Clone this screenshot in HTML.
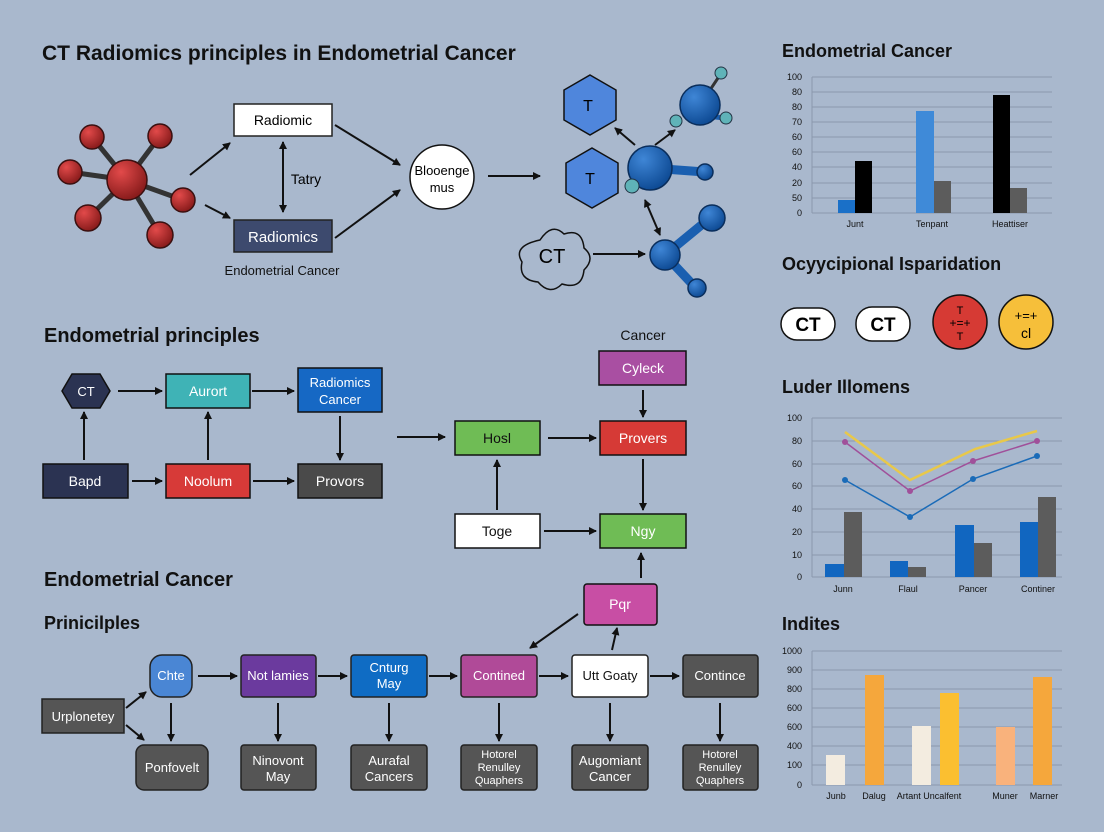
<!DOCTYPE html>
<html><head><meta charset="utf-8"><style>
html,body{margin:0;padding:0;background:#a9b8cd;}
svg{display:block;font-family:"Liberation Sans",sans-serif;}
</style></head><body>
<svg width="1104" height="832" viewBox="0 0 1104 832" xmlns="http://www.w3.org/2000/svg">
<defs>
<marker id="a" markerWidth="8" markerHeight="8" refX="7" refY="4" orient="auto" markerUnits="userSpaceOnUse"><path d="M0,0 L8,4 L0,8 z" fill="#111"/></marker>
<marker id="b" markerWidth="8" markerHeight="8" refX="1" refY="4" orient="auto" markerUnits="userSpaceOnUse"><path d="M8,0 L0,4 L8,8 z" fill="#111"/></marker>
<radialGradient id="rb" cx="0.35" cy="0.3" r="0.7"><stop offset="0" stop-color="#e24a4a"/><stop offset="1" stop-color="#8a1c1c"/></radialGradient>
<radialGradient id="bb" cx="0.35" cy="0.3" r="0.7"><stop offset="0" stop-color="#3f86d6"/><stop offset="1" stop-color="#0f4c96"/></radialGradient>
</defs>
<rect width="1104" height="832" fill="#a9b8cd"/>
<g fill="#111" font-weight="bold">
<text x="42" y="60" font-size="21">CT Radiomics principles in Endometrial Cancer</text>
<text x="44" y="342" font-size="20">Endometrial principles</text>
<text x="44" y="586" font-size="20">Endometrial Cancer</text>
<text x="44" y="629" font-size="18">Prinicilples</text>
<text x="782" y="57" font-size="18">Endometrial Cancer</text>
<text x="782" y="270" font-size="18">Ocyycipional Isparidation</text>
<text x="782" y="393" font-size="18">Luder Illomens</text>
<text x="782" y="630" font-size="18">Indites</text>
</g>
<!-- red molecule -->
<g stroke="#333" stroke-width="5">
<line x1="127" y1="180" x2="92" y2="137"/><line x1="127" y1="180" x2="160" y2="136"/><line x1="127" y1="180" x2="70" y2="172"/><line x1="127" y1="180" x2="88" y2="218"/><line x1="127" y1="180" x2="183" y2="200"/><line x1="127" y1="180" x2="160" y2="235"/>
</g>
<g fill="url(#rb)" stroke="#3a1010" stroke-width="1.5">
<circle cx="92" cy="137" r="12"/><circle cx="160" cy="136" r="12"/><circle cx="70" cy="172" r="12"/><circle cx="88" cy="218" r="13"/><circle cx="183" cy="200" r="12"/><circle cx="160" cy="235" r="13"/><circle cx="127" cy="180" r="20"/>
</g>
<g stroke="#111" stroke-width="2" fill="none" marker-end="url(#a)">
<line x1="190" y1="175" x2="230" y2="143"/><line x1="205" y1="205" x2="230" y2="218"/>
<line x1="335" y1="125" x2="400" y2="165"/><line x1="335" y1="238" x2="400" y2="190"/>
<line x1="488" y1="176" x2="540" y2="176"/><line x1="593" y1="254" x2="645" y2="254"/>
<line x1="635" y1="145" x2="615" y2="128"/><line x1="655" y1="145" x2="675" y2="130"/>
<line x1="645" y1="200" x2="660" y2="235" marker-start="url(#b)"/>
<line x1="283" y1="142" x2="283" y2="212" marker-start="url(#b)"/>
</g>
<rect x="234" y="104" width="98" height="32" fill="#fff" stroke="#222" stroke-width="1.5"/>
<text x="283" y="125" font-size="14" text-anchor="middle">Radiomic</text>
<text x="306" y="184" font-size="14" text-anchor="middle">Tatry</text>
<rect x="234" y="220" width="98" height="32" fill="#3d4a6e" stroke="#222" stroke-width="1.5"/>
<text x="283" y="242" font-size="15" text-anchor="middle" fill="#fff">Radiomics</text>
<text x="282" y="275" font-size="13" text-anchor="middle" fill="#111">Endometrial Cancer</text>
<circle cx="442" cy="177" r="32" fill="#fff" stroke="#111" stroke-width="1.5"/>
<text x="442" y="175" font-size="13" text-anchor="middle">Blooenge</text><text x="442" y="192" font-size="13" text-anchor="middle">mus</text>
<path d="M540,240 q12,-18 24,-6 q18,-6 20,14 q12,10 0,22 q-2,20 -22,14 q-12,12 -24,-2 q-20,-2 -16,-20 q-10,-16 18,-22z" fill="none" stroke="#111" stroke-width="1.5"/>
<text x="552" y="263" font-size="20" text-anchor="middle">CT</text>
<g fill="#4f86dc" stroke="#111" stroke-width="1.5">
<polygon points="590,75 616,90 616,120 590,135 564,120 564,90"/>
<polygon points="592,148 618,163 618,193 592,208 566,193 566,163"/>
</g>
<text x="588" y="111" font-size="16" text-anchor="middle">T</text><text x="590" y="184" font-size="16" text-anchor="middle">T</text>
<g stroke="#1a5fb0" stroke-width="9" stroke-linecap="round">
<line x1="650" y1="168" x2="705" y2="172"/><line x1="665" y1="255" x2="710" y2="218"/><line x1="665" y1="255" x2="695" y2="287"/>
</g>
<line x1="700" y1="105" x2="720" y2="75" stroke="#333" stroke-width="3"/><line x1="700" y1="115" x2="724" y2="118" stroke="#1a5fb0" stroke-width="5"/>
<g fill="url(#bb)" stroke="#0a2e5c" stroke-width="1.5">
<circle cx="700" cy="105" r="20"/><circle cx="650" cy="168" r="22"/><circle cx="705" cy="172" r="8"/><circle cx="712" cy="218" r="13"/><circle cx="665" cy="255" r="15"/><circle cx="697" cy="288" r="9"/>
</g>
<g fill="#5fb3b8" stroke="#234" stroke-width="1"><circle cx="721" cy="73" r="6"/><circle cx="726" cy="118" r="6"/><circle cx="676" cy="121" r="6"/><circle cx="632" cy="186" r="7"/></g>

<!-- middle flow -->
<g stroke="#111" stroke-width="2" marker-end="url(#a)">
<line x1="118" y1="391" x2="162" y2="391"/><line x1="252" y1="391" x2="294" y2="391"/>
<line x1="84" y1="460" x2="84" y2="412"/><line x1="208" y1="460" x2="208" y2="412"/><line x1="340" y1="416" x2="340" y2="460"/>
<line x1="132" y1="481" x2="162" y2="481"/><line x1="253" y1="481" x2="294" y2="481"/>
<line x1="397" y1="437" x2="445" y2="437"/><line x1="548" y1="438" x2="596" y2="438"/>
<line x1="643" y1="390" x2="643" y2="417"/><line x1="643" y1="459" x2="643" y2="510"/>
<line x1="544" y1="531" x2="596" y2="531"/><line x1="497" y1="510" x2="497" y2="460"/>
<line x1="641" y1="578" x2="641" y2="553"/><line x1="578" y1="614" x2="530" y2="648"/><line x1="612" y1="650" x2="617" y2="628"/>
</g>
<polygon points="62,391 72,374 100,374 110,391 100,408 72,408" fill="#2b3352" stroke="#111" stroke-width="1.5"/>
<text x="86" y="396" font-size="13" fill="#fff" text-anchor="middle">CT</text>
<g stroke="#111" stroke-width="1.5" font-size="14">
<rect x="166" y="374" width="84" height="34" fill="#3fb3b6"/>
<rect x="298" y="368" width="84" height="44" fill="#1668c4"/>
<rect x="43" y="464" width="85" height="34" fill="#2b3352"/>
<rect x="166" y="464" width="84" height="34" fill="#d73a38"/>
<rect x="298" y="464" width="84" height="34" fill="#4a4a4a"/>
<rect x="455" y="421" width="85" height="34" fill="#6fbc55"/>
<rect x="600" y="421" width="86" height="34" fill="#d63a36"/>
<rect x="599" y="351" width="87" height="34" fill="#a94fa2"/>
<rect x="600" y="514" width="86" height="34" fill="#6fbc55"/>
<rect x="455" y="514" width="85" height="34" fill="#fff"/>
<rect x="584" y="584" width="73" height="41" rx="3" fill="#c84ea4"/>
</g>
<g font-size="14" text-anchor="middle" fill="#fff">
<text x="208" y="396">Aurort</text><text x="340" y="387" font-size="13">Radiomics</text><text x="340" y="404" font-size="13">Cancer</text>
<text x="85" y="486">Bapd</text><text x="208" y="486">Noolum</text><text x="340" y="486">Provors</text>
<text x="497" y="443" fill="#111">Hosl</text><text x="643" y="443">Provers</text><text x="643" y="373">Cyleck</text>
<text x="643" y="536">Ngy</text><text x="497" y="536" fill="#111">Toge</text><text x="620" y="609">Pqr</text>
</g>
<text x="643" y="340" font-size="14" text-anchor="middle" fill="#111">Cancer</text>

<!-- bottom row -->
<g stroke="#111" stroke-width="2" marker-end="url(#a)">
<line x1="198" y1="676" x2="237" y2="676"/><line x1="318" y1="676" x2="347" y2="676"/><line x1="429" y1="676" x2="457" y2="676"/><line x1="539" y1="676" x2="568" y2="676"/><line x1="650" y1="676" x2="679" y2="676"/>
<line x1="126" y1="708" x2="146" y2="692"/><line x1="126" y1="725" x2="144" y2="740"/>
<line x1="171" y1="703" x2="171" y2="741"/><line x1="278" y1="703" x2="278" y2="741"/><line x1="389" y1="703" x2="389" y2="741"/><line x1="499" y1="703" x2="499" y2="741"/><line x1="610" y1="703" x2="610" y2="741"/><line x1="720" y1="703" x2="720" y2="741"/>
</g>
<g stroke="#222" stroke-width="1.5">
<rect x="150" y="655" width="42" height="42" rx="12" fill="#4a86d4"/>
<rect x="241" y="655" width="75" height="42" rx="3" fill="#6b3a9e"/>
<rect x="351" y="655" width="76" height="42" rx="3" fill="#0f6cc4"/>
<rect x="461" y="655" width="76" height="42" rx="3" fill="#b04a98"/>
<rect x="572" y="655" width="76" height="42" rx="3" fill="#fff"/>
<rect x="683" y="655" width="75" height="42" rx="3" fill="#555"/>
<rect x="42" y="699" width="82" height="34" fill="#555"/>
<g fill="#555"><rect x="136" y="745" width="72" height="45" rx="8"/><rect x="241" y="745" width="75" height="45" rx="3"/><rect x="351" y="745" width="76" height="45" rx="3"/><rect x="461" y="745" width="76" height="45" rx="3"/><rect x="572" y="745" width="76" height="45" rx="3"/><rect x="683" y="745" width="75" height="45" rx="3"/></g>
</g>
<g font-size="13" text-anchor="middle" fill="#fff">
<text x="171" y="680">Chte</text><text x="278" y="680">Not lamies</text><text x="389" y="672">Cnturg</text><text x="389" y="688">May</text>
<text x="499" y="680">Contined</text><text x="610" y="680" fill="#111">Utt Goaty</text><text x="720" y="680">Contince</text>
<text x="83" y="721">Urplonetey</text><text x="172" y="772">Ponfovelt</text>
<text x="278" y="765">Ninovont</text><text x="278" y="781">May</text>
<text x="389" y="765">Aurafal</text><text x="389" y="781">Cancers</text>
<text x="499" y="758" font-size="11">Hotorel</text><text x="499" y="771" font-size="11">Renulley</text><text x="499" y="784" font-size="11">Quaphers</text>
<text x="610" y="765">Augomiant</text><text x="610" y="781">Cancer</text>
<text x="720" y="758" font-size="11">Hotorel</text><text x="720" y="771" font-size="11">Renulley</text><text x="720" y="784" font-size="11">Quaphers</text>
</g>

<!-- chart 1 -->
<g stroke="#8a98ad" stroke-width="1">
<line x1="812" y1="77" x2="1052" y2="77"/><line x1="812" y1="92" x2="1052" y2="92"/><line x1="812" y1="107" x2="1052" y2="107"/><line x1="812" y1="122" x2="1052" y2="122"/><line x1="812" y1="137" x2="1052" y2="137"/><line x1="812" y1="152" x2="1052" y2="152"/><line x1="812" y1="167" x2="1052" y2="167"/><line x1="812" y1="183" x2="1052" y2="183"/><line x1="812" y1="198" x2="1052" y2="198"/><line x1="812" y1="213" x2="1052" y2="213"/><line x1="812" y1="77" x2="812" y2="213"/>
</g>
<g font-size="9" fill="#111" text-anchor="end"><text x="802" y="80">100</text><text x="802" y="95">80</text><text x="802" y="110">80</text><text x="802" y="125">70</text><text x="802" y="140">60</text><text x="802" y="155">60</text><text x="802" y="170">40</text><text x="802" y="186">20</text><text x="802" y="201">50</text><text x="802" y="216">0</text></g>
<rect x="838" y="200" width="17" height="13" fill="#1a70c8"/><rect x="855" y="161" width="17" height="52" fill="#000"/>
<rect x="916" y="111" width="18" height="102" fill="#3f8ad8"/><rect x="934" y="181" width="17" height="32" fill="#5c5c5c"/>
<rect x="993" y="95" width="17" height="118" fill="#000"/><rect x="1010" y="188" width="17" height="25" fill="#5c5c5c"/>
<g font-size="9" fill="#111" text-anchor="middle"><text x="855" y="227">Junt</text><text x="932" y="227">Tenpant</text><text x="1010" y="227">Heattiser</text></g>
<rect x="781" y="308" width="54" height="32" rx="16" fill="#fff" stroke="#111" stroke-width="1.5"/><text x="808" y="331" font-size="19" font-weight="bold" text-anchor="middle">CT</text>
<rect x="856" y="307" width="54" height="34" rx="16" fill="#fff" stroke="#111" stroke-width="1.5"/><text x="883" y="331" font-size="19" font-weight="bold" text-anchor="middle">CT</text>
<circle cx="960" cy="322" r="27" fill="#d63a34" stroke="#111" stroke-width="1.5"/><text x="960" y="314" font-size="11" text-anchor="middle">T</text><text x="960" y="327" font-size="12" text-anchor="middle">+=+</text><text x="960" y="340" font-size="11" text-anchor="middle">T</text>
<circle cx="1026" cy="322" r="27" fill="#f6bf3a" stroke="#111" stroke-width="1.5"/><text x="1026" y="320" font-size="13" text-anchor="middle">+=+</text><text x="1026" y="338" font-size="14" text-anchor="middle">cl</text>

<!-- chart 2 -->
<g stroke="#8a98ad" stroke-width="1">
<line x1="812" y1="418" x2="1062" y2="418"/><line x1="812" y1="441" x2="1062" y2="441"/><line x1="812" y1="464" x2="1062" y2="464"/><line x1="812" y1="486" x2="1062" y2="486"/><line x1="812" y1="509" x2="1062" y2="509"/><line x1="812" y1="532" x2="1062" y2="532"/><line x1="812" y1="555" x2="1062" y2="555"/><line x1="812" y1="577" x2="1062" y2="577"/><line x1="812" y1="418" x2="812" y2="577"/>
</g>
<g font-size="9" fill="#111" text-anchor="end"><text x="802" y="421">100</text><text x="802" y="444">80</text><text x="802" y="467">60</text><text x="802" y="489">60</text><text x="802" y="512">40</text><text x="802" y="535">20</text><text x="802" y="558">10</text><text x="802" y="580">0</text></g>
<rect x="825" y="564" width="19" height="13" fill="#1166c0"/><rect x="844" y="512" width="18" height="65" fill="#5c5c5c"/>
<rect x="890" y="561" width="18" height="16" fill="#1166c0"/><rect x="908" y="567" width="18" height="10" fill="#5c5c5c"/>
<rect x="955" y="525" width="19" height="52" fill="#1166c0"/><rect x="974" y="543" width="18" height="34" fill="#5c5c5c"/>
<rect x="1020" y="522" width="18" height="55" fill="#1166c0"/><rect x="1038" y="497" width="18" height="80" fill="#5c5c5c"/>
<polyline points="845,432 910,480 975,449 1037,431" fill="none" stroke="#e8c84a" stroke-width="2.5"/>
<polyline points="845,442 910,491 973,461 1037,441" fill="none" stroke="#a0509a" stroke-width="1.5"/>
<polyline points="845,480 910,517 973,479 1037,456" fill="none" stroke="#1a6bb8" stroke-width="1.5"/>
<g fill="#a0509a"><circle cx="845" cy="442" r="3"/><circle cx="910" cy="491" r="3"/><circle cx="973" cy="461" r="3"/><circle cx="1037" cy="441" r="3"/></g>
<g fill="#1a6bb8"><circle cx="845" cy="480" r="3"/><circle cx="910" cy="517" r="3"/><circle cx="973" cy="479" r="3"/><circle cx="1037" cy="456" r="3"/></g>
<g font-size="9" fill="#111" text-anchor="middle"><text x="843" y="592">Junn</text><text x="908" y="592">Flaul</text><text x="973" y="592">Pancer</text><text x="1038" y="592">Continer</text></g>

<!-- chart 3 -->
<g stroke="#8a98ad" stroke-width="1">
<line x1="812" y1="651" x2="1062" y2="651"/><line x1="812" y1="670" x2="1062" y2="670"/><line x1="812" y1="689" x2="1062" y2="689"/><line x1="812" y1="708" x2="1062" y2="708"/><line x1="812" y1="727" x2="1062" y2="727"/><line x1="812" y1="746" x2="1062" y2="746"/><line x1="812" y1="765" x2="1062" y2="765"/><line x1="812" y1="785" x2="1062" y2="785"/><line x1="812" y1="651" x2="812" y2="785"/>
</g>
<g font-size="9" fill="#111" text-anchor="end"><text x="802" y="654">1000</text><text x="802" y="673">900</text><text x="802" y="692">800</text><text x="802" y="711">600</text><text x="802" y="730">600</text><text x="802" y="749">400</text><text x="802" y="768">100</text><text x="802" y="788">0</text></g>
<rect x="826" y="755" width="19" height="30" fill="#f3ece0"/><rect x="865" y="675" width="19" height="110" fill="#f5a73c"/>
<rect x="912" y="726" width="19" height="59" fill="#f3ece0"/><rect x="940" y="693" width="19" height="92" fill="#fbbf30"/>
<rect x="996" y="727" width="19" height="58" fill="#f9b27c"/><rect x="1033" y="677" width="19" height="108" fill="#f5a73c"/>
<g font-size="9" fill="#111" text-anchor="middle"><text x="836" y="799">Junb</text><text x="874" y="799">Dalug</text><text x="929" y="799">Artant Uncalfent</text><text x="1005" y="799">Muner</text><text x="1044" y="799">Marner</text></g>
</svg>
</body></html>
